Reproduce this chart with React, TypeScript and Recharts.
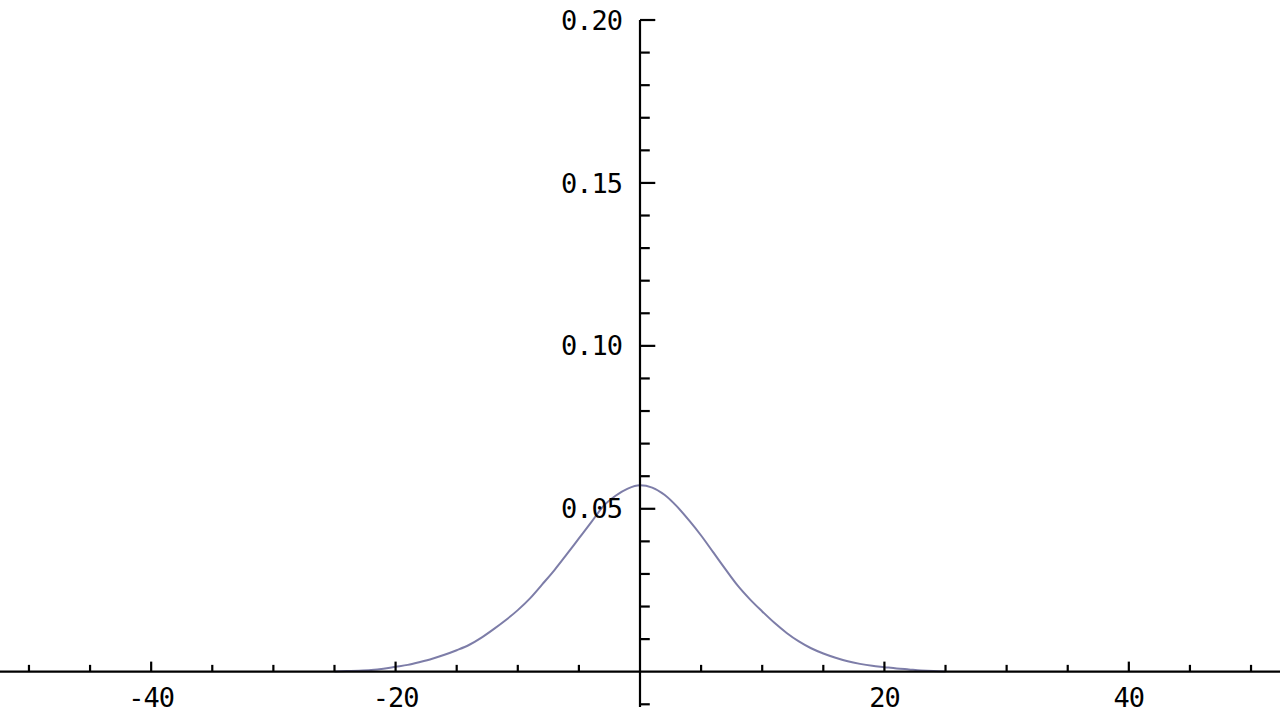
import React from 'react';
import { LineChart, Line, XAxis, YAxis, ReferenceLine, ReferenceDot } from 'recharts';

const xValues = [-25, -24, -23, -22, -21, -20, -19, -18, -17, -16, -15, -14, -13, -12, -11, -10, -9, -8, -7, -6, -5, -4, -3, -2, -1, 0, 1, 2, 3, 4, 5, 6, 7, 8, 9, 10, 11, 12, 13, 14, 15, 16, 17, 18, 19, 20, 21, 22, 23, 24, 25];
const densityValues = [0.0001, 0.0002, 0.0003, 0.0005, 0.0009, 0.0015, 0.0021, 0.003, 0.004, 0.0052, 0.0066, 0.0082, 0.0104, 0.013, 0.0158, 0.0189, 0.0225, 0.0268, 0.0312, 0.036, 0.0409, 0.0458, 0.0508, 0.054, 0.0562, 0.0572, 0.0565, 0.0543, 0.0508, 0.0465, 0.0418, 0.0366, 0.0314, 0.0264, 0.0222, 0.0185, 0.015, 0.0119, 0.0093, 0.0072, 0.0056, 0.0043, 0.0032, 0.0024, 0.0018, 0.0014, 0.001, 0.0007, 0.0004, 0.0002, 0.0001];

const xMajorTicks = [-40, -20, 20, 40];
const xMinorTicks = [-50, -45, -35, -30, -25, -15, -10, -5, 5, 10, 15, 25, 30, 35, 45, 50];
const xTickLabels = ['-40', '-20', '20', '40'];
const yMajorTicks = [0.05, 0.1, 0.15, 0.2];
const yMinorTicks = [-0.01, 0.01, 0.02, 0.03, 0.04, 0.06, 0.07, 0.08, 0.09, 0.11, 0.12, 0.13, 0.14, 0.16, 0.17, 0.18, 0.19];
const yTickLabels = ['0.05', '0.10', '0.15', '0.20'];

const data = xValues.map((x, i) => ({ x, y: densityValues[i] }));

const X_DOMAIN: [number, number] = [-52.37, 52.37];
const Y_DOMAIN: [number, number] = [-0.01482, 0.20614];
const X_MAJOR_LEN = 0.0031;
const X_MINOR_LEN = 0.0021;
const Y_MAJOR_LEN = 1.25;
const Y_MINOR_LEN = 0.8;

const labelFont = { fill: '#000', fontSize: 27, letterSpacing: -1, fontFamily: 'DejaVu Sans Mono' };

export default function App() {
  return (
    <div style={{ position: 'absolute', left: 0, top: 0, width: 1280, height: 720, background: '#fff' }}>
      <LineChart width={1280} height={720} data={data} margin={{ top: 0, right: 0, bottom: 0, left: 0 }}>
        <XAxis dataKey="x" type="number" domain={X_DOMAIN} allowDataOverflow hide />
        <YAxis type="number" domain={Y_DOMAIN} allowDataOverflow hide />
        <Line dataKey="y" type="monotone" stroke="#7d7da8" strokeWidth={2} dot={false} activeDot={false} isAnimationActive={false} />
        <ReferenceLine y={0} stroke="#000" strokeWidth={2.2} />
        <ReferenceLine segment={[{ x: 0, y: -0.0108 }, { x: 0, y: 0.2 }]} stroke="#000" strokeWidth={2.2} />
        {xMajorTicks.map((t) => (
          <ReferenceLine key={'xM' + t} segment={[{ x: t, y: 0 }, { x: t, y: X_MAJOR_LEN }]} stroke="#000" strokeWidth={2.2} />
        ))}
        {xMinorTicks.map((t) => (
          <ReferenceLine key={'xm' + t} segment={[{ x: t, y: 0 }, { x: t, y: X_MINOR_LEN }]} stroke="#000" strokeWidth={2.2} />
        ))}
        {yMajorTicks.map((t) => (
          <ReferenceLine key={'yM' + t} segment={[{ x: 0, y: t }, { x: Y_MAJOR_LEN, y: t }]} stroke="#000" strokeWidth={2.2} />
        ))}
        {yMinorTicks.map((t) => (
          <ReferenceLine key={'ym' + t} segment={[{ x: 0, y: t }, { x: Y_MINOR_LEN, y: t }]} stroke="#000" strokeWidth={2.2} />
        ))}
        {xMajorTicks.map((t, i) => (
          <ReferenceDot key={'xl' + t} x={t} y={0} r={1} fillOpacity={0} stroke="none"
            label={{ value: xTickLabels[i], position: 'bottom', offset: 15, ...labelFont }} />
        ))}
        {yMajorTicks.map((t, i) => (
          <ReferenceDot key={'yl' + t} x={0} y={t} r={1} fillOpacity={0} stroke="none"
            label={{ value: yTickLabels[i], position: 'left', offset: 17, ...labelFont }} />
        ))}
      </LineChart>
    </div>
  );
}
